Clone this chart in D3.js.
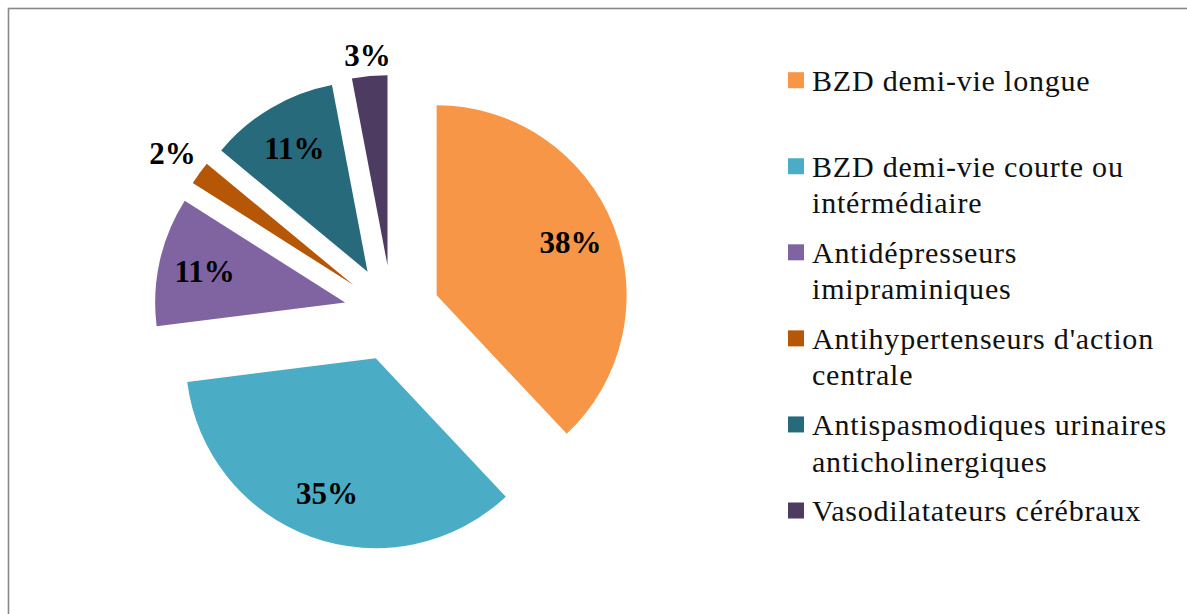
<!DOCTYPE html>
<html>
<head>
<meta charset="utf-8">
<script src="https://cdn.jsdelivr.net/npm/d3@7"></script>
<style>
  body { margin: 0; background: #fff; }
  text { font-family: "Liberation Serif", "Times New Roman", serif; }
</style>
</head>
<body>
<div id="chart"></div>
<script>
// data
var categories = ["BZD demi-vie longue", "BZD demi-vie courte ou intérmédiaire", "Antidépresseurs imipraminiques",
                  "Antihypertenseurs d'action centrale", "Antispasmodiques urinaires anticholinergiques", "Vasodilatateurs cérébraux"];
var legendLines = [["BZD demi-vie longue"], ["BZD demi-vie courte ou", "intérmédiaire"], ["Antidépresseurs", "imipraminiques"],
                   ["Antihypertenseurs d'action", "centrale"], ["Antispasmodiques urinaires", "anticholinergiques"], ["Vasodilatateurs cérébraux"]];
var values = [38, 35, 11, 2, 11, 3];
var colors = ["#F79646", "#4BACC6", "#8064A2", "#B65708", "#276A7C", "#4D3B62"];

var width = 1187, height = 614;
var cx = 392, cy = 313, radius = 190, explode = 48;

var svg = d3.select("#chart").append("svg")
    .attr("width", width)
    .attr("height", height);

// outer frame (right / bottom edges fall outside the picture)
svg.append("rect")
    .attr("x", 8.5).attr("y", 8.5)
    .attr("width", width + 20).attr("height", height + 20)
    .attr("fill", "none")
    .attr("stroke", "#898989")
    .attr("stroke-width", 1.6);

var pie = d3.pie().sort(null).value(function(d) { return d; });
var arcs = pie(values);
var arc = d3.arc().innerRadius(0).outerRadius(radius);

var g = svg.append("g").attr("transform", "translate(" + cx + "," + cy + ")");

function mid(d) { return (d.startAngle + d.endAngle) / 2; }

var slice = g.selectAll(".slice")
    .data(arcs)
    .enter().append("g")
    .attr("class", "slice")
    .attr("transform", function(d) {
      var a = mid(d);
      return "translate(" + (explode * Math.sin(a)) + "," + (-explode * Math.cos(a)) + ")";
    });

slice.append("path")
    .attr("d", arc)
    .attr("fill", function(d, i) { return colors[i]; });

// percentage labels, inside for big slices, just outside the arc for small ones
var labels = slice.append("text")
    .attr("text-anchor", "middle")
    .attr("dy", "0.35em")
    .style("font-size", "31px")
    .style("font-weight", "bold")
    .text(function(d) { return d.data + "%"; });

labels.each(function(d) {
  var a = mid(d), r = 144;
  if (d.data < 5) {
    var w = this.getComputedTextLength(), h = 22;
    r = radius + 8 + (w / 2) * Math.abs(Math.sin(a)) + (h / 2) * Math.abs(Math.cos(a));
  }
  d3.select(this)
    .attr("x", r * Math.sin(a))
    .attr("y", -r * Math.cos(a));
});

// legend
var legendY = d3.scalePoint().domain(d3.range(categories.length)).range([90.7, 521]);

var legend = svg.append("g").selectAll(".legend")
    .data(categories)
    .enter().append("g")
    .attr("class", "legend")
    .attr("transform", function(d, i) { return "translate(788," + legendY(i) + ")"; });

legend.append("rect")
    .attr("x", 0).attr("y", -18.5)
    .attr("width", 16).attr("height", 16)
    .attr("fill", function(d, i) { return colors[i]; });

legend.append("text")
    .attr("x", 24)
    .style("font-size", "30px")
    .style("letter-spacing", "0.8px")
    .style("fill", "#111")
    .selectAll("tspan")
    .data(function(d, i) { return legendLines[i]; })
    .enter().append("tspan")
    .attr("x", 24)
    .attr("y", function(d, j) { return j * 36.6; })
    .text(function(d) { return d; });
</script>
</body>
</html>
